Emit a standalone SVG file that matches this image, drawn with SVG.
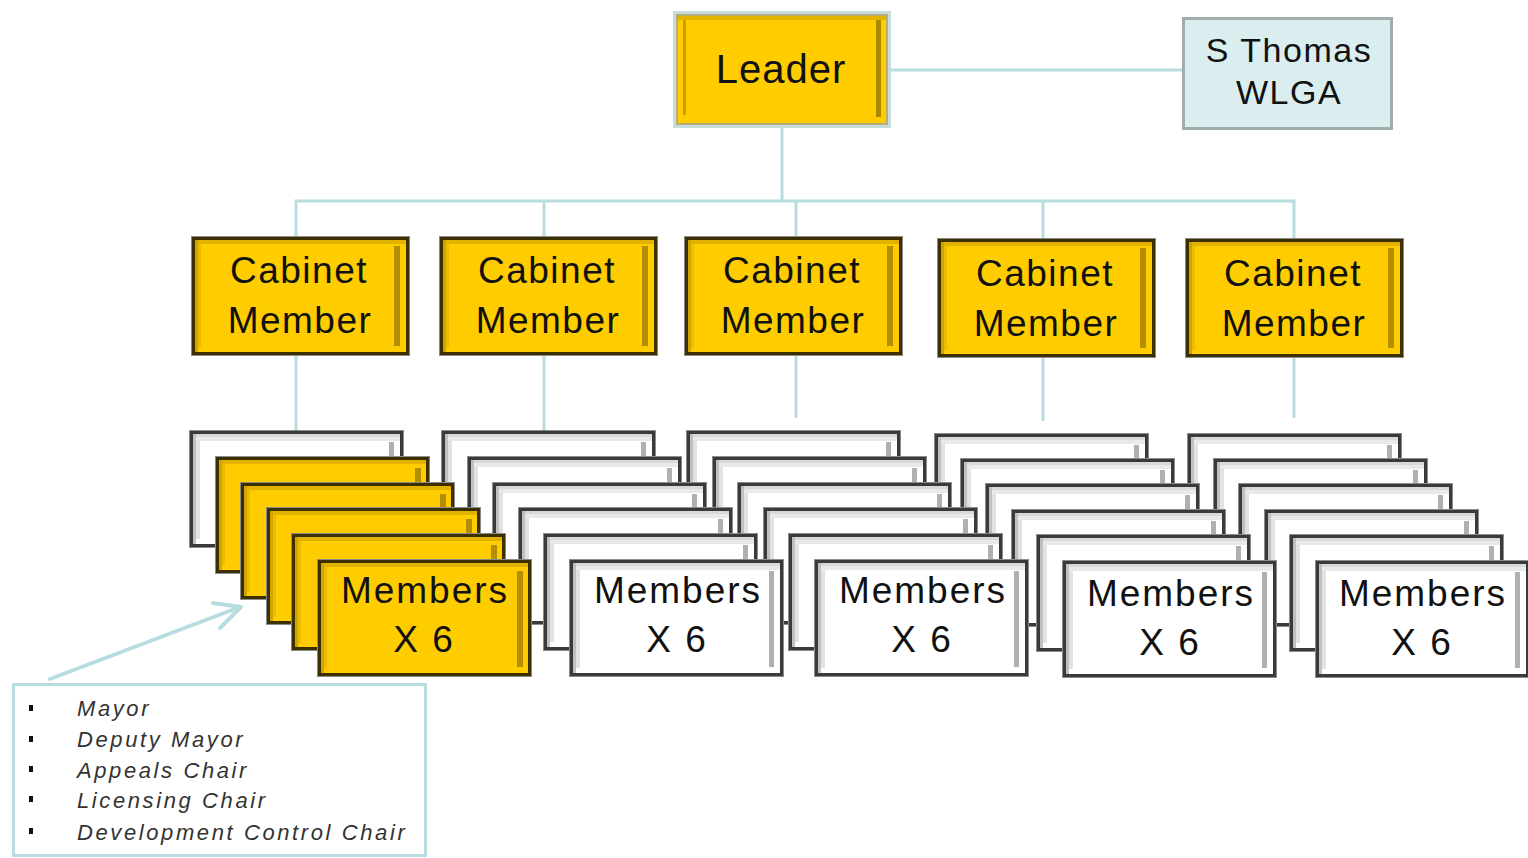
<svg xmlns="http://www.w3.org/2000/svg" xmlns:xlink="http://www.w3.org/1999/xlink" width="1528" height="858" viewBox="0 0 1528 858">
  <style>
    .lbl { font-family: "Liberation Sans", Arial, sans-serif; fill: #111; text-anchor: middle; }
    .big { font-size: 40px; letter-spacing: 1px; }
    .cab { font-size: 37px; letter-spacing: 1.5px; }
    .mem { font-size: 37px; letter-spacing: 2px; }
    .wlga { font-size: 34px; letter-spacing: 1.5px; }
    .legend { font-family: "Liberation Sans", Arial, sans-serif; font-size: 22px; font-style: italic; fill: #333; letter-spacing: 2.6px; }
    .conn { stroke: #b8dde0; stroke-width: 3; fill: none; }
    .arrow { stroke: #b8dde0; stroke-width: 4; fill: none; stroke-linecap: round; stroke-linejoin: round; }
    .link { stroke: #444; stroke-width: 3; fill: none; }
  </style>
  <defs>
    <!-- yellow cabinet card, 219 x 120 -->
    <g id="cab-card">
      <rect width="219" height="120" fill="#8a8a8a"/>
      <rect x="1" y="1" width="217" height="118" fill="#3d3000"/>
      <rect x="4" y="4" width="211" height="112" fill="#ffcc00"/>
      <rect x="4" y="4" width="211" height="4" fill="#e2b200"/>
      <rect x="4" y="4" width="3" height="112" fill="#d2a400"/>
      <rect x="7" y="8" width="3" height="104" fill="#ecbc00"/>
      <rect x="203" y="10" width="6" height="100" fill="#b48e00"/>
    </g>
    <!-- yellow member card, 215 x 118 -->
    <g id="card-y">
      <rect width="215" height="118" fill="#8a8a8a"/>
      <rect x="1" y="1" width="213" height="116" fill="#3d3000"/>
      <rect x="4" y="4" width="207" height="110" fill="#ffcc00"/>
      <rect x="4" y="4" width="207" height="4" fill="#e2b200"/>
      <rect x="4" y="4" width="3" height="110" fill="#d2a400"/>
      <rect x="7" y="8" width="3" height="102" fill="#ecbc00"/>
      <rect x="200" y="12" width="6" height="96" fill="#b48e00"/>
    </g>
    <!-- white member card, 215 x 118 -->
    <g id="card-w">
      <rect width="215" height="118" fill="#8c8c8c"/>
      <rect x="1" y="1" width="213" height="116" fill="#3a3a3a"/>
      <rect x="4" y="4" width="207" height="110" fill="#ffffff"/>
      <rect x="4" y="4" width="207" height="3" fill="#d8dada"/>
      <rect x="4" y="7" width="207" height="4" fill="#e8eaea"/>
      <rect x="4" y="4" width="3" height="110" fill="#c0c0c0"/>
      <rect x="7" y="11" width="4" height="98" fill="#e2e2e2"/>
      <rect x="200" y="12" width="5" height="96" fill="#b0b0b0"/>
    </g>
  </defs>

  <rect width="1528" height="858" fill="#ffffff"/>

  <!-- connectors -->
  <g id="connectors">
    <path class="conn" d="M891 70 H1182"/>
    <path class="conn" d="M782 128 V201"/>
    <path class="conn" d="M296 236 V201 H1294 V238"/>
    <path class="conn" d="M544 201 V236"/>
    <path class="conn" d="M796 201 V236"/>
    <path class="conn" d="M1043 201 V238"/>
    <path class="conn" d="M296 356 V430"/>
    <path class="conn" d="M544 356 V430"/>
    <path class="conn" d="M796 356 V418"/>
    <path class="conn" d="M1043 358 V421"/>
    <path class="conn" d="M1294 358 V418"/>
    <path class="link" d="M528 622 H1292"/>
    <path class="arrow" d="M50 679 L240 607"/>
    <path class="arrow" d="M213 603 L241 607 L220 628"/>
  </g>

  <!-- leader -->
  <g id="leader">
    <rect x="673" y="11" width="218" height="117" fill="#c8dcdc"/>
    <rect x="676" y="14" width="212" height="111" fill="#b8ad78"/>
    <rect x="678" y="16" width="208" height="107" fill="#ffcc00"/>
    <rect x="678" y="16" width="208" height="4" fill="#e2b400"/>
    <rect x="683" y="20" width="3" height="95" fill="#c8a000"/>
    <rect x="876" y="20" width="5" height="97" fill="#a88a00"/>
    <text class="lbl big" x="781" y="83">Leader</text>
  </g>

  <!-- advisor -->
  <g id="s-thomas">
    <rect x="1183.5" y="18.5" width="208" height="110" fill="#daeef0" stroke="#a2acac" stroke-width="3"/>
    <text class="lbl wlga" x="1289" y="62">S Thomas</text>
    <text class="lbl wlga" x="1289" y="104">WLGA</text>
  </g>

  <!-- cabinet members -->
  <g id="cabinet-1">
    <use xlink:href="#cab-card" x="191" y="236"/>
    <text class="lbl cab" x="299" y="283">Cabinet</text>
    <text class="lbl cab" x="300" y="333">Member</text>
  </g>
  <g id="cabinet-2">
    <use xlink:href="#cab-card" x="439" y="236"/>
    <text class="lbl cab" x="547" y="283">Cabinet</text>
    <text class="lbl cab" x="548" y="333">Member</text>
  </g>
  <g id="cabinet-3">
    <use xlink:href="#cab-card" x="684" y="236"/>
    <text class="lbl cab" x="792" y="283">Cabinet</text>
    <text class="lbl cab" x="793" y="333">Member</text>
  </g>
  <g id="cabinet-4">
    <use xlink:href="#cab-card" x="937" y="238"/>
    <text class="lbl cab" x="1045" y="286">Cabinet</text>
    <text class="lbl cab" x="1046" y="336">Member</text>
  </g>
  <g id="cabinet-5">
    <use xlink:href="#cab-card" x="1185" y="238"/>
    <text class="lbl cab" x="1293" y="286">Cabinet</text>
    <text class="lbl cab" x="1294" y="336">Member</text>
  </g>

  <!-- member stacks, drawn right to left so each front card sits on top -->
  <g id="members-5">
    <use xlink:href="#card-w" x="1187" y="433"/>
    <use xlink:href="#card-w" x="1213" y="458"/>
    <use xlink:href="#card-w" x="1238" y="483"/>
    <use xlink:href="#card-w" x="1264" y="509"/>
    <use xlink:href="#card-w" x="1289" y="534"/>
    <use xlink:href="#card-w" x="1315" y="560"/>
    <text class="lbl mem" x="1423" y="606">Members</text>
    <text class="lbl mem" x="1422" y="655">X 6</text>
  </g>
  <g id="members-4">
    <use xlink:href="#card-w" x="934" y="433"/>
    <use xlink:href="#card-w" x="960" y="458"/>
    <use xlink:href="#card-w" x="985" y="483"/>
    <use xlink:href="#card-w" x="1011" y="509"/>
    <use xlink:href="#card-w" x="1036" y="534"/>
    <use xlink:href="#card-w" x="1062" y="560"/>
    <text class="lbl mem" x="1171" y="606">Members</text>
    <text class="lbl mem" x="1170" y="655">X 6</text>
  </g>
  <g id="members-3">
    <use xlink:href="#card-w" x="686" y="430"/>
    <use xlink:href="#card-w" x="712" y="456"/>
    <use xlink:href="#card-w" x="737" y="482"/>
    <use xlink:href="#card-w" x="763" y="507"/>
    <use xlink:href="#card-w" x="788" y="533"/>
    <use xlink:href="#card-w" x="814" y="559"/>
    <text class="lbl mem" x="923" y="603">Members</text>
    <text class="lbl mem" x="922" y="652">X 6</text>
  </g>
  <g id="members-2">
    <use xlink:href="#card-w" x="441" y="430"/>
    <use xlink:href="#card-w" x="467" y="456"/>
    <use xlink:href="#card-w" x="492" y="482"/>
    <use xlink:href="#card-w" x="518" y="507"/>
    <use xlink:href="#card-w" x="543" y="533"/>
    <use xlink:href="#card-w" x="569" y="559"/>
    <text class="lbl mem" x="678" y="603">Members</text>
    <text class="lbl mem" x="677" y="652">X 6</text>
  </g>
  <g id="members-1">
    <use xlink:href="#card-w" x="189" y="430"/>
    <use xlink:href="#card-y" x="215" y="456"/>
    <use xlink:href="#card-y" x="240" y="482"/>
    <use xlink:href="#card-y" x="266" y="507"/>
    <use xlink:href="#card-y" x="291" y="533"/>
    <use xlink:href="#card-y" x="317" y="559"/>
    <text class="lbl mem" x="425" y="603">Members</text>
    <text class="lbl mem" x="424" y="652">X 6</text>
  </g>

  <!-- roles legend -->
  <g id="roles">
    <rect x="13.5" y="684.5" width="412" height="171" fill="#ffffff" stroke="#b8dde0" stroke-width="3"/>
    <g fill="#111">
      <rect x="29" y="705" width="4" height="6"/>
      <rect x="29" y="736" width="4" height="6"/>
      <rect x="29" y="766" width="4" height="6"/>
      <rect x="29" y="796" width="4" height="6"/>
      <rect x="29" y="828" width="4" height="6"/>
    </g>
    <text class="legend" x="77" y="716">Mayor</text>
    <text class="legend" x="77" y="747">Deputy Mayor</text>
    <text class="legend" x="77" y="778">Appeals Chair</text>
    <text class="legend" x="77" y="808">Licensing Chair</text>
    <text class="legend" x="77" y="840">Development Control Chair</text>
  </g>
</svg>
